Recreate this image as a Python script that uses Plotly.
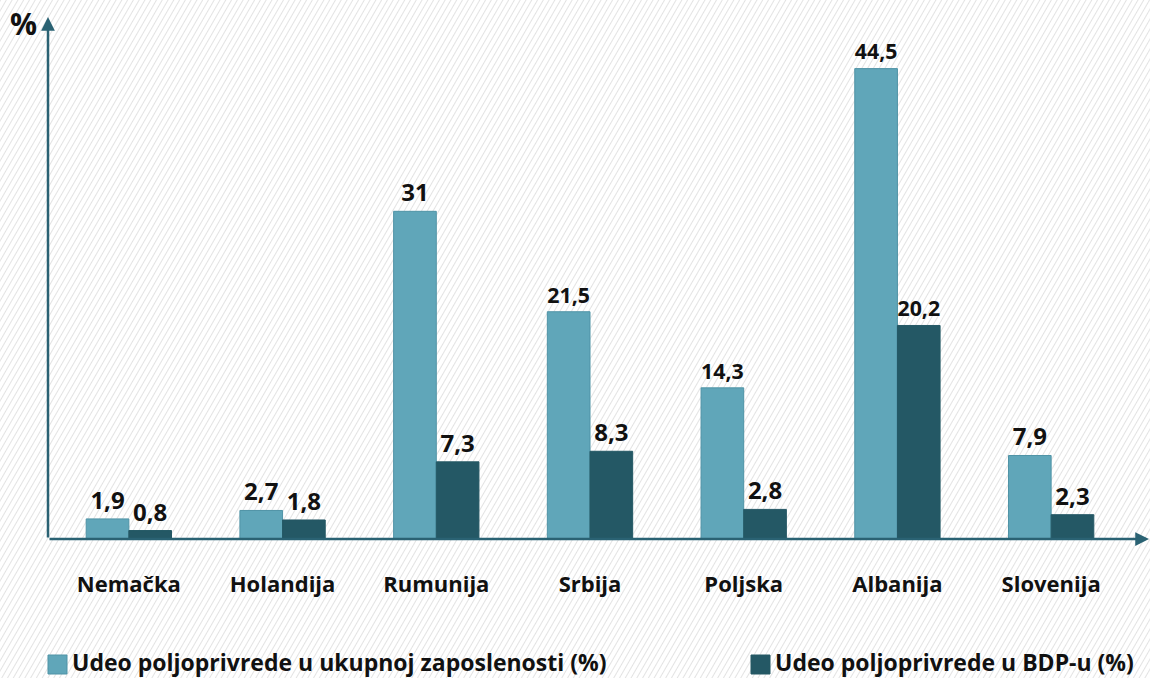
import base64
import plotly.graph_objects as go

categories = ["Nemačka", "Holandija", "Rumunija", "Srbija", "Poljska", "Albanija", "Slovenija"]
employment_share = [1.9, 2.7, 31, 21.5, 14.3, 44.5, 7.9]
gdp_share = [0.8, 1.8, 7.3, 8.3, 2.8, 20.2, 2.3]
series_names = ["Udeo poljoprivrede u ukupnoj zaposlenosti (%)", "Udeo poljoprivrede u BDP-u (%)"]
y_unit = "%"

LIGHT = "#60a6b9"
DARK = "#245865"
AXIS = "#2a6273"
FONT = "Open Sans"

W, H = 1150, 678
L, R, T, B = 52, 22, 20, 139
PW, PH = W - L - R, H - T - B


def px(x):
    return (x - L) / PW


def py(y):
    return (H - B - y) / PH


def fmt(v):
    return ("%g" % v).replace(".", ",")


svg = f'''<svg xmlns="http://www.w3.org/2000/svg" width="{W}" height="{H}">
<defs><pattern id="p" width="5" height="5" patternUnits="userSpaceOnUse" patternTransform="rotate(30)">
<rect width="5" height="5" fill="#ffffff"/><line x1="0" y1="0" x2="0" y2="5" stroke="#dedede" stroke-width="1.7"/></pattern></defs>
<rect width="{W}" height="{H}" fill="url(#p)"/></svg>'''
bg_src = "data:image/svg+xml;base64," + base64.b64encode(svg.encode()).decode()

fig = go.Figure()
for vals, color, line_color, name in [
    (employment_share, LIGHT, "#4f93a6", series_names[0]),
    (gdp_share, DARK, DARK, series_names[1]),
]:
    fig.add_trace(go.Bar(
        x=categories, y=vals, name=name,
        marker=dict(color=color, line=dict(color=line_color, width=1)),
        text=[fmt(v) for v in vals], textposition="outside",
        textfont=dict(family=FONT, size=24, color="#111111", weight=700),
        cliponaxis=False, showlegend=False,
    ))

fig.update_layout(
    width=W, height=H,
    margin=dict(l=L, r=R, t=T, b=B),
    paper_bgcolor="white", plot_bgcolor="rgba(0,0,0,0)",
    barmode="group", bargap=0.445, bargroupgap=0,
    font=dict(family=FONT, color="#111111"),
    xaxis=dict(showline=False, showgrid=False, zeroline=False,
               ticks="outside", ticklen=26, tickcolor="rgba(0,0,0,0)",
               tickfont=dict(family=FONT, size=22, color="#111111", weight=700),
               range=[-0.5, 6.5]),
    yaxis=dict(range=[0, 49.1], showgrid=False, zeroline=False, showline=False,
               showticklabels=False, ticks=""),
    images=[dict(source=bg_src, xref="paper", yref="paper", x=px(0), y=py(0),
                 sizex=W / PW, sizey=H / PH, sizing="stretch", layer="below",
                 xanchor="left", yanchor="top")],
)

# axes with arrows
fig.add_annotation(xref="paper", yref="paper", x=px(48), y=py(17), ax=0, ay=522,
                   axref="pixel", ayref="pixel", showarrow=True, arrowhead=2,
                   arrowsize=1.1, arrowwidth=2.5, arrowcolor=AXIS, text="")
fig.add_annotation(xref="paper", yref="paper", x=px(1149), y=py(539), ax=-1101, ay=0,
                   axref="pixel", ayref="pixel", showarrow=True, arrowhead=2,
                   arrowsize=1.1, arrowwidth=2.5, arrowcolor=AXIS, text="")
fig.add_annotation(xref="paper", yref="paper", x=px(23), y=py(24), text=y_unit,
                   xanchor="center", yanchor="middle",
                   showarrow=False, font=dict(family=FONT, size=30, color="#111111", weight=700))

# legend (manual)
for sq_x, color, line_color, name in [(48, LIGHT, "#4f93a6", series_names[0]),
                                      (751, DARK, DARK, series_names[1])]:
    fig.add_shape(type="rect", xref="paper", yref="paper",
                  x0=px(sq_x), x1=px(sq_x + 19), y0=py(674), y1=py(655),
                  fillcolor=color, line=dict(color=line_color, width=1))
    fig.add_annotation(xref="paper", yref="paper", x=px(sq_x + 23), y=py(662),
                       xanchor="left", yanchor="middle", text=name, showarrow=False,
                       borderpad=0,
                       font=dict(family=FONT, size=23, color="#111111", weight=700))

fig.write_html("out.html", config={"displayModeBar": False},
               post_script="document.body.style.margin='0';")
